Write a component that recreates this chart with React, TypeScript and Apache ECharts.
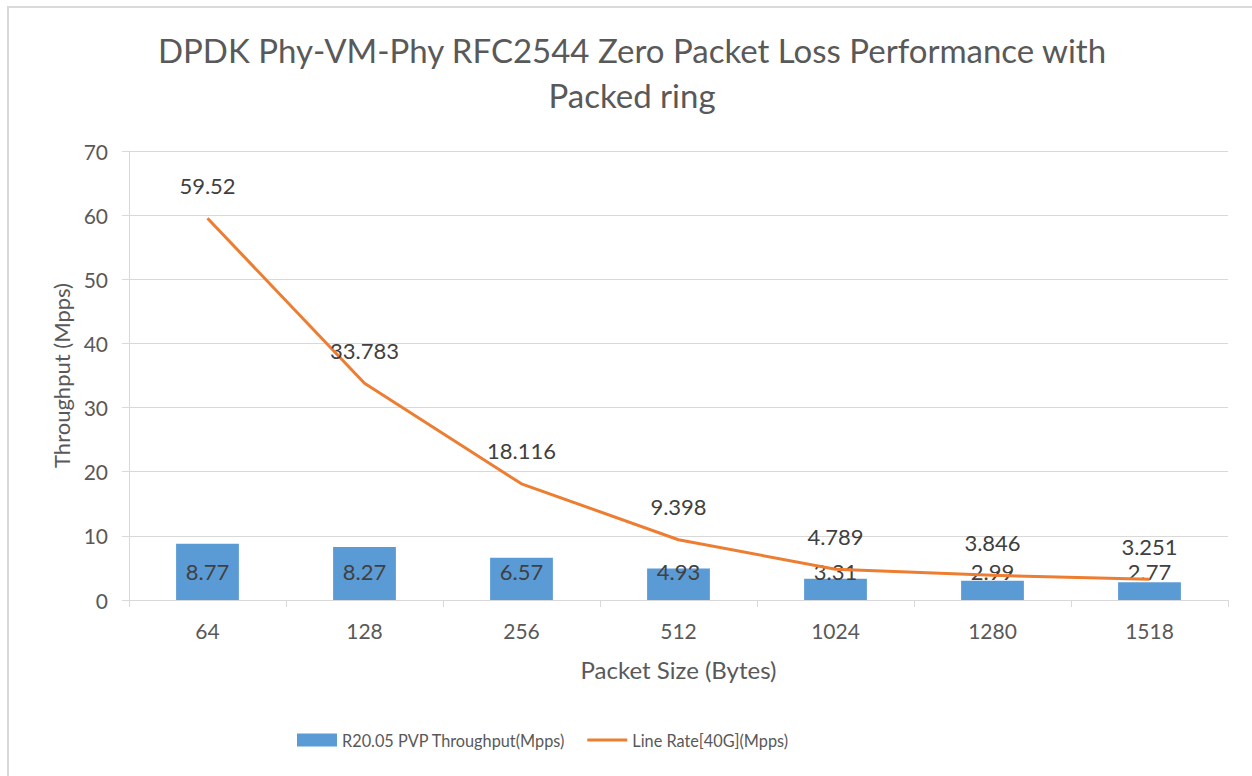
import React, { useEffect, useRef } from "react";
import * as echarts from "echarts";

const categories = ["64", "128", "256", "512", "1024", "1280", "1518"];
const throughput = [8.77, 8.27, 6.57, 4.93, 3.31, 2.99, 2.77];
const lineRate = [59.52, 33.783, 18.116, 9.398, 4.789, 3.846, 3.251];
const seriesNames = ["R20.05 PVP Throughput(Mpps)", "Line Rate[40G](Mpps)"];
const titleText = "DPDK Phy-VM-Phy RFC2544 Zero Packet Loss Performance with\nPacked ring";

const FONT = "Lato";
const TEXT = "#595959";

export default function App() {
  const ref = useRef<HTMLDivElement>(null);
  useEffect(() => {
    document.body.style.margin = "0";
    const chart = echarts.init(ref.current!, null, { renderer: "svg" });
    chart.setOption({
      animation: false,
      backgroundColor: "#ffffff",
      textStyle: { fontFamily: FONT },
      title: {
        text: titleText,
        left: 627,
        top: 22,
        textAlign: "center",
        textStyle: {
          fontFamily: FONT,
          fontSize: 33,
          fontWeight: "normal",
          color: TEXT,
          lineHeight: 45,
        },
      },
      graphic: [
        {
          type: "rect",
          shape: { x: 8, y: 7, width: 1300, height: 900 },
          style: { fill: "none", stroke: "#d9d9d9", lineWidth: 2 },
          silent: true,
          z: -1,
        },
      ],
      legend: {
        left: 292,
        top: 727,
        itemWidth: 40,
        itemHeight: 13,
        itemGap: 22,
        textStyle: { fontFamily: FONT, fontSize: 16.3, color: TEXT },
        data: [
          { name: seriesNames[0], icon: "rect" },
          { name: seriesNames[1], icon: "path://M0 0 H40 V3 H0 Z" },
        ],
      },
      grid: { left: 129, right: 24, top: 151, bottom: 176, containLabel: false },
      xAxis: {
        type: "category",
        data: categories,
        name: "Packet Size (Bytes)",
        nameLocation: "middle",
        nameGap: 57,
        nameTextStyle: { fontFamily: FONT, fontSize: 24, color: TEXT, verticalAlign: "top" },
        axisLine: { lineStyle: { color: "#d9d9d9", width: 1 } },
        axisTick: { show: true, alignWithLabel: false, length: 7, lineStyle: { color: "#d9d9d9" } },
        axisLabel: { fontFamily: FONT, fontSize: 21, color: TEXT, margin: 20 },
      },
      yAxis: {
        type: "value",
        min: 0,
        max: 70,
        interval: 10,
        name: "Throughput (Mpps)",
        nameLocation: "middle",
        nameGap: 56,
        nameTextStyle: { fontFamily: FONT, fontSize: 22, color: TEXT },
        axisLine: { show: true, lineStyle: { color: "#d9d9d9", width: 1 } },
        axisTick: { show: true, length: 7, lineStyle: { color: "#d9d9d9" } },
        axisLabel: { fontFamily: FONT, fontSize: 21, color: TEXT, margin: 21 },
        splitLine: { lineStyle: { color: "#d9d9d9", width: 1 } },
      },
      series: [
        {
          name: seriesNames[0],
          type: "bar",
          data: throughput,
          barWidth: "40%",
          itemStyle: { color: "#5B9BD5" },
          label: {
            show: true,
            position: "insideBottom",
            distance: 18,
            fontFamily: FONT,
            fontSize: 22,
            color: "#404040",
          },
          z: 2,
        },
        {
          name: seriesNames[1],
          type: "line",
          data: lineRate,
          symbol: "circle",
          symbolSize: 0,
          showSymbol: true,
          lineStyle: { color: "#ED7D31", width: 3 },
          itemStyle: { color: "#ED7D31" },
          label: {
            show: true,
            position: "top",
            distance: 22,
            fontFamily: FONT,
            fontSize: 22,
            color: "#404040",
          },
          labelLayout: { hideOverlap: false },
          z: 3,
        },
      ],
    });
    return () => chart.dispose();
  }, []);
  return <div ref={ref} style={{ width: 1252, height: 776 }} />;
}
